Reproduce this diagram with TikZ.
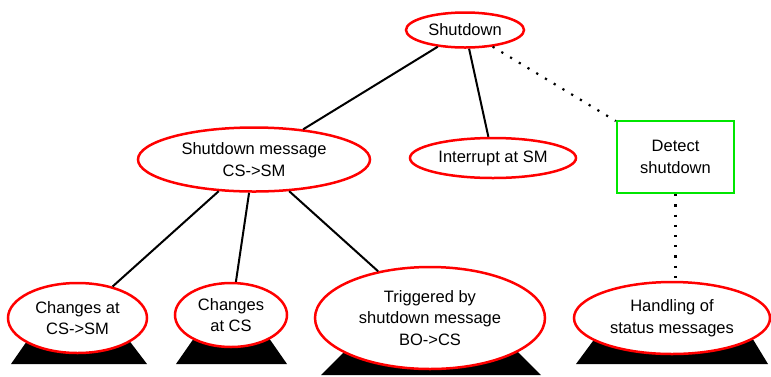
\documentclass[tikz,border=0pt]{standalone}
\usepackage{fontspec}
\setmainfont{Liberation Sans}
\usetikzlibrary{shapes.geometric}
\definecolor{ovred}{RGB}{255,0,0}
\definecolor{boxgreen}{RGB}{0,230,0}
\tikzset{
  goal/.style={ellipse, draw=ovred, line width=2.5pt, fill=white, inner sep=0pt,
    align=center, font=\fontsize{16.5}{21.5}\selectfont},
  taskbox/.style={rectangle, draw=boxgreen, line width=2.5pt, fill=white, inner sep=0pt,
    align=center, font=\fontsize{16.5}{21.5}\selectfont},
  link/.style={line width=2pt, black},
  dotlink/.style={line width=2.2pt, black, dash pattern=on 2.2pt off 8pt},
  base/.style={fill=black},
}
\begin{document}
\begin{tikzpicture}[x=1pt,y=-1pt]
\useasboundingbox (0,0) rectangle (771,376);

% stands beneath the leaf goals
\fill[base] (11,364) -- (147,364) -- (112,318) -- (43,318) -- cycle;
\fill[base] (176,364) -- (287,364) -- (255,318) -- (208,318) -- cycle;
\fill[base] (321,375) -- (541,375) -- (496,330) -- (366,330) -- cycle;
\fill[base] (576,364) -- (768,364) -- (740,318) -- (610,318) -- cycle;

% goals
\node[goal, minimum width=118pt, minimum height=35pt] (sd) at (465,30) {Shutdown};
\node[goal, minimum width=232pt, minimum height=64pt] (msg) at (254,159.5) {Shutdown message\\CS->SM};
\node[goal, minimum width=166pt, minimum height=40pt] (intr) at (493,158) {Interrupt at SM};
\node[taskbox, minimum width=117pt, minimum height=72pt] (det) at (675.5,157) {Detect\\shutdown};

\node[goal, minimum width=139pt, minimum height=70pt] (c1) at (77.5,318) {Changes at\\CS->SM};
\node[goal, minimum width=112pt, minimum height=64pt] (c2) at (231,315) {Changes\\at CS};
\node[goal, minimum width=230pt, minimum height=102pt] (c3) at (430,318) {Triggered by\\shutdown message\\BO->CS};
\node[goal, minimum width=196pt, minimum height=72pt] (c4) at (672,318) {Handling of\\status messages};

% connectors
\draw[link] (sd) -- (msg);
\draw[link] (sd) -- (intr);
\draw[dotlink] (sd) -- (det);
\draw[dotlink] (det.south) -- (det.south |- c4.north);
\draw[link] (msg) -- (c1);
\draw[link] (msg) -- (c2);
\draw[link] (msg) -- (c3);
\end{tikzpicture}
\end{document}
